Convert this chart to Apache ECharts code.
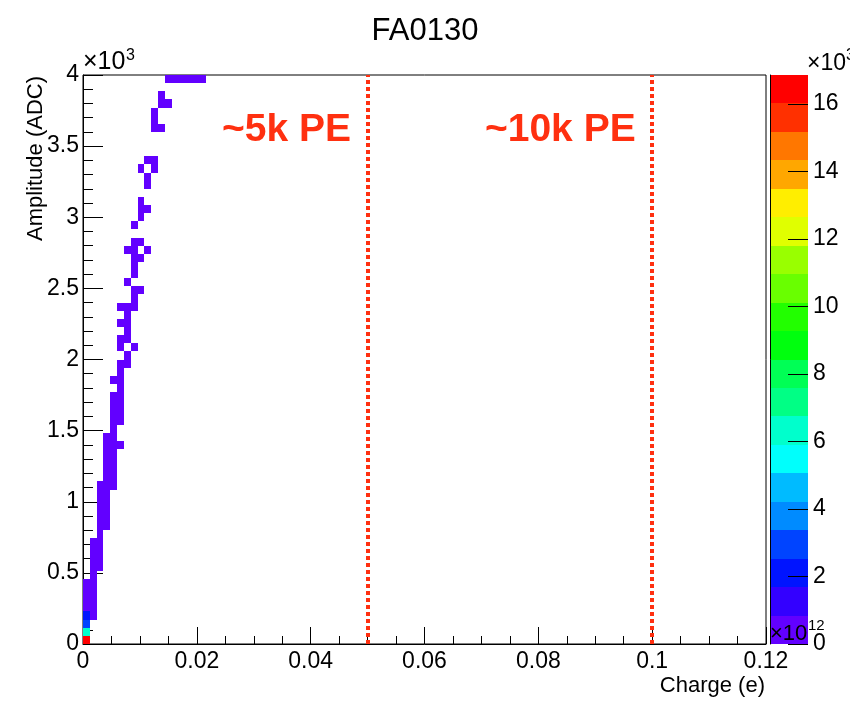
<!DOCTYPE html>
<html>
<head>
<meta charset="utf-8">
<title>FA0130</title>
<script src="https://cdn.jsdelivr.net/npm/echarts@6/dist/echarts.min.js"></script>
<style>
html, body { margin: 0; padding: 0; background: #fff; }
#chart { width: 850px; height: 701px; }
</style>
</head>
<body>
<div id="chart"></div>
<script>
// binning of the 2D histogram: 100 bins on charge [0, 0.12], 70 bins on amplitude [0, 4000]
const chargeBinWidth = 0.0012
const ampBinWidth = 4000 / 70

// filled bins: charge bin index, amplitude bin index, entries
const chargeBin = [
  0, 0, 0, 0, 1, 0, 1, 0, 1, 0, 1, 0, 1,
  1, 1, 2, 1, 2, 1, 2, 1, 2, 2,
  2, 3, 2, 3, 2, 3, 2, 3, 2, 3, 2, 3, 4,
  3, 4, 3, 4, 3, 4, 3, 4, 3, 4, 5, 3, 4, 4,
  4, 5, 4, 5, 4, 5, 4, 5, 5, 4, 5, 5,
  5, 6, 6, 5, 7, 5, 6, 6, 5, 6, 6, 5, 6, 7,
  7, 7, 8, 6, 7, 7, 7, 8, 6, 7, 9, 7, 8,
  7, 8, 8, 9, 8, 9, 9, 8, 10, 9, 10,
  10, 11, 10, 10, 11, 12, 11,
  12, 13, 14, 15, 16, 17
]
const ampBin = [
  0, 1, 2, 3, 3, 4, 4, 5, 5, 6, 6, 7, 7,
  8, 9, 9, 10, 10, 11, 11, 12, 12, 13,
  14, 14, 15, 15, 16, 16, 17, 17, 18, 18, 19, 19, 19,
  20, 20, 21, 21, 22, 22, 23, 23, 24, 24, 24, 25, 25, 26,
  27, 27, 28, 28, 29, 29, 30, 30, 31, 32, 32, 33,
  34, 34, 35, 36, 36, 37, 37, 38, 39, 39, 40, 41, 41, 41,
  42, 43, 43, 44, 45, 46, 47, 47, 48, 48, 48, 49, 49,
  51, 52, 53, 53, 54, 56, 57, 58, 58, 59, 59,
  63, 63, 64, 65, 66, 66, 67,
  69, 69, 69, 69, 69, 69
]
const entries = [
  16850, 6200, 2900, 1900, 460, 720, 410, 650, 380, 540, 350, 410, 330,
  300, 260, 240, 230, 250, 190, 260, 150, 240, 230,
  210, 150, 190, 170, 170, 180, 140, 190, 120, 180, 90, 170, 60,
  160, 80, 140, 100, 120, 110, 100, 120, 80, 110, 40, 60, 100, 90,
  80, 60, 70, 70, 60, 70, 50, 60, 60, 30, 50, 50,
  40, 30, 40, 20, 15, 25, 30, 30, 15, 25, 25, 10, 20, 15,
  20, 15, 10, 10, 15, 12, 10, 10, 5, 8, 5, 8, 6,
  5, 6, 5, 4, 4, 4, 3, 2, 3, 3, 2,
  2, 2, 2, 1, 1, 1, 1,
  6, 5, 4, 4, 3, 2
]

// colour scale: ROOT pretty palette, 20 contour levels up to the histogram maximum
const palette = [
  '#6200FF', '#3300FF', '#0014FF', '#0044FF', '#008BFF',
  '#00BBFF', '#00FFFC', '#00FFCC', '#00FF85', '#00FF55',
  '#00FF0E', '#22FF00', '#69FF00', '#99FF00', '#E0FF00',
  '#FFEE00', '#FFA700', '#FF7700', '#FF3000', '#FF0000'
]
const zMax = 16850
const colorTicks = [0, 2, 4, 6, 8, 10, 12, 14, 16]

// reference lines and their labels
const peCharge = [0.05, 0.1]
const peLabels = ['~5k PE', '~10k PE']

const FONT = 'Liberation Sans, Arial, Helvetica, sans-serif'
const RED = '#FF3010'

const nLevels = palette.length
const levelStep = zMax / nLevels
const pieces = palette.map((color, j) => {
  if (j === nLevels - 1) return { gte: j * levelStep, lte: zMax, color }
  return { gte: j * levelStep, lt: (j + 1) * levelStep, color }
})
const cellData = chargeBin.map((c, i) => [c * chargeBinWidth, ampBin[i] * ampBinWidth, entries[i]])
const bandData = palette.map((c, j) => [0.5, (j + 0.5) * levelStep / 1000, j])

const chart = echarts.init(document.getElementById('chart'))

// rectangle between two data corners, snapped to whole pixels
function cellRect(api, x0, y0, x1, y1, fill) {
  const p0 = api.coord([x0, y0])
  const p1 = api.coord([x1, y1])
  const left = Math.round(p0[0])
  const top = Math.round(p1[1])
  return {
    type: 'rect',
    shape: { x: left, y: top, width: Math.round(p1[0]) - left, height: Math.round(p0[1]) - top },
    style: { fill: fill }
  }
}

const option = {
  backgroundColor: '#fff',
  animation: false,
  textStyle: { fontFamily: FONT, color: '#000' },
  title: {
    text: 'FA0130',
    left: 'center',
    top: 11,
    textStyle: { fontFamily: FONT, fontSize: 31, fontWeight: 'normal', color: '#000' }
  },
  grid: [
    { left: 83, right: 84, top: 75, bottom: 57, show: true, borderColor: '#000', borderWidth: 1, backgroundColor: 'transparent' },
    { left: 770, width: 38, top: 75, bottom: 57 }
  ],
  visualMap: {
    type: 'piecewise',
    show: false,
    seriesIndex: 0,
    dimension: 2,
    pieces: pieces
  },
  xAxis: [
    {
      gridIndex: 0,
      type: 'value',
      min: 0,
      max: 0.12,
      interval: 0.02,
      axisLine: { lineStyle: { color: '#000', width: 1 } },
      axisTick: { inside: true, length: 17, lineStyle: { color: '#000' } },
      minorTick: { show: true, splitNumber: 4, length: 8, lineStyle: { color: '#000' } },
      splitLine: { show: false },
      axisLabel: { fontSize: 23, color: '#000', margin: 6, fontFamily: FONT }
    },
    { gridIndex: 1, type: 'value', min: 0, max: 1, show: false }
  ],
  yAxis: [
    {
      gridIndex: 0,
      type: 'value',
      min: 0,
      max: 4000,
      interval: 500,
      axisLine: { lineStyle: { color: '#000', width: 1 } },
      axisTick: { inside: true, length: 20, lineStyle: { color: '#000' } },
      minorTick: { show: true, splitNumber: 5, length: 10, lineStyle: { color: '#000' } },
      splitLine: { show: false },
      axisLabel: {
        fontSize: 23,
        color: '#000',
        margin: 4,
        fontFamily: FONT,
        formatter: v => String(v / 1000)
      }
    },
    {
      gridIndex: 1,
      type: 'value',
      position: 'right',
      z: 10,
      min: 0,
      max: zMax / 1000,
      axisLine: { show: true, lineStyle: { color: '#000', width: 1 } },
      axisTick: { show: false },
      axisLabel: { customValues: colorTicks, fontSize: 23, color: '#000', margin: 5, fontFamily: FONT },
      splitLine: { show: false }
    }
  ],
  series: [
    {
      // histogram cells
      type: 'custom',
      xAxisIndex: 0,
      yAxisIndex: 0,
      encode: { x: 0, y: 1 },
      data: cellData,
      clip: true,
      renderItem: function (params, api) {
        const x0 = api.value(0)
        const y0 = api.value(1)
        return cellRect(api, x0, y0, x0 + chargeBinWidth, y0 + ampBinWidth, api.visual('color'))
      }
    },
    {
      // colour bar bands
      type: 'custom',
      xAxisIndex: 1,
      yAxisIndex: 1,
      z: 1,
      encode: { x: 0, y: 1 },
      data: bandData,
      silent: true,
      renderItem: function (params, api) {
        const j = api.value(2)
        return cellRect(api, 0, j * levelStep / 1000, 1, (j + 1) * levelStep / 1000, palette[j])
      }
    },
    {
      // colour bar ticks, pointing into the bar
      type: 'custom',
      xAxisIndex: 1,
      yAxisIndex: 1,
      z: 5,
      encode: { x: 0, y: 1 },
      data: colorTicks.map(v => [1, v]),
      silent: true,
      renderItem: function (params, api) {
        const p = api.coord([1, api.value(1)])
        const y = Math.round(p[1]) + 0.5
        return {
          type: 'line',
          shape: { x1: p[0], y1: y, x2: p[0] - 20, y2: y },
          style: { stroke: '#000', lineWidth: 1 }
        }
      }
    },
    {
      // PE reference lines with labels
      type: 'scatter',
      xAxisIndex: 0,
      yAxisIndex: 0,
      symbolSize: 1,
      itemStyle: { color: 'rgba(0,0,0,0)', opacity: 1 },
      silent: true,
      data: peCharge.map(x => [x, 3615]),
      label: {
        show: true,
        position: 'left',
        distance: 16,
        opacity: 1,
        formatter: p => peLabels[p.dataIndex],
        fontSize: 39,
        fontWeight: 'bold',
        fontFamily: FONT,
        color: RED
      },
      markLine: {
        silent: true,
        symbol: ['none', 'none'],
        label: { show: false },
        lineStyle: { color: RED, width: 4, type: [4, 3], opacity: 1 },
        data: peCharge.map(x => ({ xAxis: x }))
      }
    }
  ],
  graphic: [
    {
      type: 'text',
      x: 36,
      y: 76,
      rotation: Math.PI / 2,
      style: { text: 'Amplitude (ADC)', fontSize: 22, fontFamily: FONT, fill: '#000', textAlign: 'right', textVerticalAlign: 'middle' }
    },
    {
      type: 'text',
      x: 765,
      y: 686,
      style: { text: 'Charge (e)', fontSize: 22, fontFamily: FONT, fill: '#000', textAlign: 'right', textVerticalAlign: 'middle' }
    },
    { type: 'text', x: 83, y: 75, style: { text: '×10', fontSize: 25, fontFamily: FONT, fill: '#000', textVerticalAlign: 'bottom' } },
    { type: 'text', x: 126, y: 64, style: { text: '3', fontSize: 16, fontFamily: FONT, fill: '#000', textVerticalAlign: 'bottom' } },
    { type: 'text', x: 807, y: 75, style: { text: '×10', fontSize: 23, fontFamily: FONT, fill: '#000', textVerticalAlign: 'bottom' } },
    { type: 'text', x: 846, y: 64, style: { text: '3', fontSize: 16, fontFamily: FONT, fill: '#000', textVerticalAlign: 'bottom' } },
    { type: 'text', x: 770, y: 645, z: 100, style: { text: '×10', fontSize: 22, fontFamily: FONT, fill: '#000', textVerticalAlign: 'bottom' } },
    { type: 'text', x: 808, y: 633, z: 100, style: { text: '12', fontSize: 15, fontFamily: FONT, fill: '#000', textVerticalAlign: 'bottom' } }
  ]
}

chart.setOption(option)
</script>
</body>
</html>
